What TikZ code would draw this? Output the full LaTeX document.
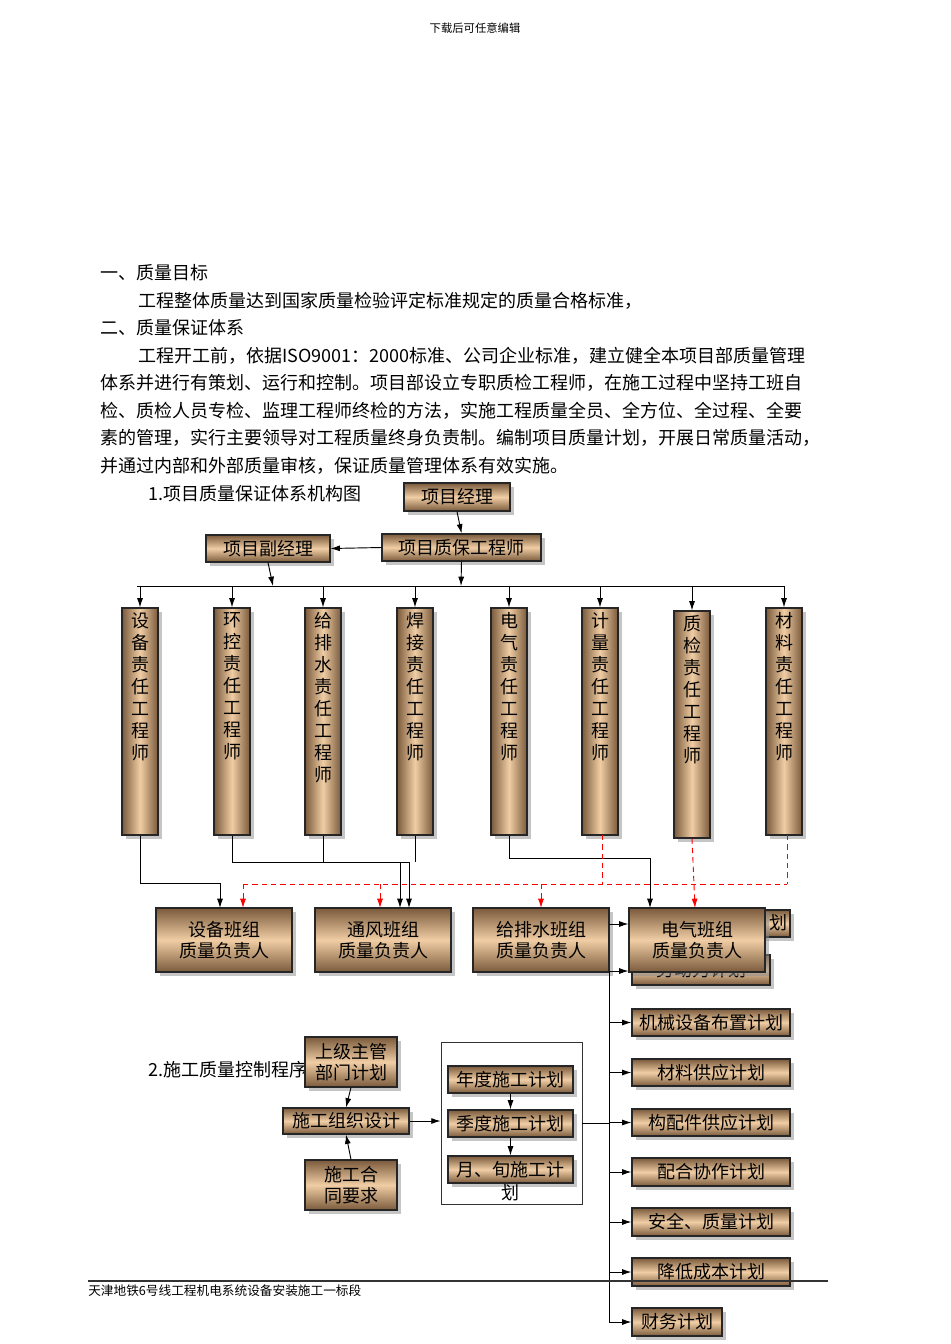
\documentclass[tikz,border=0pt]{standalone}
\usepackage{fontspec}
\setmainfont{Noto Sans CJK SC}
\usetikzlibrary{shadows,arrows.meta}
\definecolor{bD}{HTML}{7A5A3C}
\definecolor{bL}{HTML}{F0CDA4}
\tikzset{
 bz/.style={draw=black!85,line width=0.8pt,top color=bD,bottom color=bD,middle color=bL,
   drop shadow={shadow xshift=3pt,shadow yshift=-3pt,fill=black!45},inner sep=0pt,align=center,
   font=\fontsize{13.5}{15.5}\selectfont},
 vb/.style={bz,shading angle=90},
 ln/.style={line width=0.7pt,draw=black},
 ar/.style={ln,-{Latex[length=7pt,width=4.5pt]}},
 rd/.style={line width=0.7pt,draw=red,dashed,dash pattern=on 4pt off 3pt},
 rar/.style={rd,-{Latex[length=7pt,width=4.5pt]}},
 tx/.style={anchor=west,inner sep=0pt,font=\fontsize{13.5}{16}\selectfont},
 vt/.style={anchor=north,inner sep=0pt,align=center,font=\fontsize{13.5}{16.5}\selectfont}
}
\newcommand\bx[6]{\node[bz,minimum width={(#4-#2)*0.75pt},minimum height={(#5-#3)*0.75pt}] (#1) at ({(#2+#4)/2},{(#3+#5)/2}) {#6};}
\newcommand\vbar[5]{\node[vb,minimum width=27pt,minimum height={(#4-#3)*0.75pt}] (#1) at (#2,{(#3+#4)/2}) {};
 \node[vt] (#1t) at (#2,{#3+4}) {#5};}
\begin{document}
\begin{tikzpicture}[x=0.75pt,y=-0.75pt]
\useasboundingbox (0,0) rectangle (950,1344);
\node[font=\fontsize{8.5}{10}\selectfont] (hdr) at (475,28) {下载后可任意编辑};
\node[tx] (t1) at (100,273) {一、质量目标};
\node[tx] (t2) at (138,301) {工程整体质量达到国家质量检验评定标准规定的质量合格标准，};
\node[tx] (t3) at (100,328) {二、质量保证体系};
\node[tx] (t4) at (138,356) {工程开工前，依据ISO9001：2000标准、公司企业标准，建立健全本项目部质量管理};
\node[tx] (t5) at (100,383) {体系并进行有策划、运行和控制。项目部设立专职质检工程师，在施工过程中坚持工班自};
\node[tx] (t6) at (100,411) {检、质检人员专检、监理工程师终检的方法，实施工程质量全员、全方位、全过程、全要};
\node[tx] (t7) at (100,438) {素的管理，实行主要领导对工程质量终身负责制。编制项目质量计划，开展日常质量活动，};
\node[tx] (t8) at (100,466) {并通过内部和外部质量审核，保证质量管理体系有效实施。};
\node[tx] (t9) at (148,494) {1.项目质量保证体系机构图};

\bx{pm}{404}{483}{510}{511}{项目经理}
\bx{qe}{382}{534}{541}{561}{项目质保工程师}
\bx{dpm}{206}{535}{330}{562}{项目副经理}
\draw[ar] (pm.south) -- (qe.north);
\draw[ar] (qe.west) -- (dpm.east);
\coordinate (hl) at (137,586); \coordinate (hr) at (784,586);
\draw[ln] (hl) -- (hr);
\draw[ar] (dpm.south) -- (273,586);
\draw[ar] (qe.south) -- (461,586);

\vbar{b1}{140}{608}{835}{设\\备\\责\\任\\工\\程\\师}
\vbar{b2}{232}{608}{835}{环\\控\\责\\任\\工\\程\\师}
\vbar{b3}{323}{608}{835}{给\\排\\水\\责\\任\\工\\程\\师}
\vbar{b4}{415}{608}{835}{焊\\接\\责\\任\\工\\程\\师}
\vbar{b5}{509}{608}{835}{电\\气\\责\\任\\工\\程\\师}
\vbar{b6}{600}{608}{835}{计\\量\\责\\任\\工\\程\\师}
\vbar{b7}{692}{611}{838}{质\\检\\责\\任\\工\\程\\师}
\vbar{b8}{784}{608}{835}{材\\料\\责\\任\\工\\程\\师}
\foreach \b/\x in {b1/140,b2/232,b3/323,b4/415,b5/509,b6/600,b7/692,b8/784}
  \draw[ar] (\x,586) -- (\b.north);

% hidden plan boxes behind 电气
\bx{p0}{632}{910}{790}{937}{}
\node[inner sep=0pt,font=\fontsize{13.5}{15.5}\selectfont] (p0t) at (778,923) {划};
\bx{p1}{632}{955}{770}{985}{劳动力计划}

\bx{g1}{156}{908}{292}{972}{设备班组\\质量负责人}
\bx{g2}{315}{908}{451}{972}{通风班组\\质量负责人}
\bx{g3}{473}{908}{609}{972}{给排水班组\\质量负责人}
\bx{g4}{629}{908}{765}{972}{电气班组\\质量负责人}

\draw[ar] (b1.south) |- (220,883) -- (220,908);
\draw[ln] (b2.south) |- (409,862);
\draw[ln] (b3.south) -- (b3.south |- 0,862);
\draw[ln] (b4.south) -- (b4.south |- 0,862);
\draw[ar] (400,862) -- (400,908);
\draw[ar] (409,862) -- (409,908);
\draw[ar] (b5.south) |- (650,858) -- (650,908);
\draw[rd] (243,884) -- (787,884);
\draw[rd] (602,835) -- (602,884);
\draw[rd] (787,835) -- (787,884);
\draw[rar] (b7.south) -- (695,908);
\foreach \x in {243,380,541} \draw[rar] (\x,884) -- (\x,908);

% plans column
\bx{p2}{632}{1009}{790}{1036}{机械设备布置计划}
\bx{p3}{632}{1059}{790}{1086}{材料供应计划}
\bx{p4}{632}{1109}{790}{1136}{构配件供应计划}
\bx{p5}{632}{1158}{790}{1186}{配合协作计划}
\bx{p6}{632}{1208}{790}{1236}{安全、质量计划}
\bx{p7}{632}{1258}{790}{1286}{降低成本计划}
\bx{p8}{632}{1308}{722}{1336}{财务计划}
\coordinate (vt) at (609,972); \coordinate (vbtm) at (609,1322);
\draw[ln] (vt) -- (vbtm);
\draw[ar] (609,924) -- (g4.west |- 0,924);
\draw[ar] (609,971) -- (g4.west |- 0,971);
\foreach \p in {p2,p3,p4,p5,p6,p7,p8} \draw[ar] (609,0 |- \p.west) -- (\p.west);

% left flow
\node[tx] (t10) at (148,1070) {2.施工质量控制程序};
\bx{s1}{305}{1037}{397}{1087}{上级主管\\部门计划}
\bx{s2}{283}{1108}{409}{1134}{施工组织设计}
\bx{s3}{305}{1160}{397}{1210}{施工合\\同要求}
\draw[ar] (s1.south) -- (s2.north);
\draw[ar] (s3.north) -- (s2.south);
\node[draw=black!80,line width=0.6pt,minimum width={141*0.75pt},minimum height={162*0.75pt},inner sep=0pt] (fr) at (511.5,1123) {};
\draw[ar] (s2.east) -- (fr.west |- s2.east);
\bx{y1}{448}{1066}{573}{1093}{年度施工计划}
\bx{y2}{448}{1110}{573}{1137}{季度施工计划}
\bx{y3}{448}{1156}{573}{1183}{月、旬施工计}
\node[font=\fontsize{13.5}{15}\selectfont,inner sep=0pt] (y3b) at (510,1193) {划};
\draw[ar] (y1.south) -- (y2.north);
\draw[ar] (y2.south) -- (y3.north);
\draw[ln] (fr.east |- y2.east) -- (609,0 |- y2.east);

% footer
\coordinate (fl) at (88,1281); \coordinate (fr2) at (828,1281);
\draw[line width=0.8pt,black!80] (fl) -- (fr2);
\node[anchor=west,inner sep=0pt,font=\fontsize{9.5}{11}\selectfont] (ft) at (88,1291) {天津地铁6号线工程机电系统设备安装施工一标段};
\end{tikzpicture}
\end{document}
